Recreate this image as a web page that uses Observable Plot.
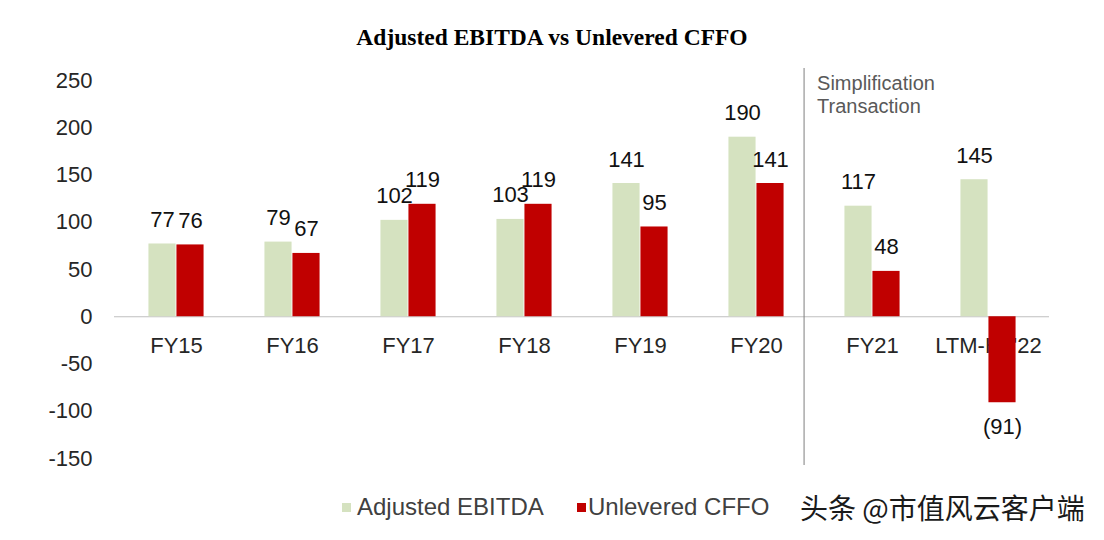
<!DOCTYPE html>
<html>
<head>
<meta charset="utf-8">
<script src="https://cdn.jsdelivr.net/npm/d3@7"></script>
<script src="https://cdn.jsdelivr.net/npm/@observablehq/plot@0.6"></script>
<style>
  html, body { margin: 0; padding: 0; background: #ffffff; }
  #wrap { position: relative; width: 1104px; height: 540px; overflow: hidden; font-family: "Liberation Sans", Arial, sans-serif; }
  #title { position: absolute; left: 0; top: 0; width: 1104px; height: 60px; text-align: center; font-family: "Liberation Serif", "Times New Roman", serif; font-weight: bold; font-size: 23.5px; line-height: 24px; padding-top: 25px; box-sizing: border-box; color: #000; }
  #chart { position: absolute; left: 0; top: 60px; }
  .sw { position: absolute; width: 9px; height: 9px; top: 503px; }
  .lg { position: absolute; top: 493px; font-size: 24px; line-height: 28px; color: #404040; white-space: nowrap; }
  #wm { position: absolute; left: 800px; top: 490px; font-family: "Noto Sans CJK SC", sans-serif; font-size: 28px; line-height: 34px; color: #1a1a1a; white-space: nowrap; }
</style>
</head>
<body>
<div id="wrap">
  <div id="title"></div>
  <div id="chart"></div>
  <div class="sw" id="sw1"></div><div class="lg" id="lg1"></div>
  <div class="sw" id="sw2"></div><div class="lg" id="lg2"></div>
  <div id="wm"></div>
</div>
<script>
const title = "Adjusted EBITDA vs Unlevered CFFO";
const categories = ["FY15", "FY16", "FY17", "FY18", "FY19", "FY20", "FY21", "LTM-H1'22"];
const seriesNames = ["Adjusted EBITDA", "Unlevered CFFO"];
const ebitda = [77, 79, 102, 103, 141, 190, 117, 145];
const cffo = [76, 67, 119, 119, 95, 141, 48, -91];
const yTicks = [-150, -100, -50, 0, 50, 100, 150, 200, 250];
const note = "Simplification\nTransaction";
const noteAt = "FY21";
const watermark = "头条 @市值风云客户端";

const GREEN = "#d5e2c0";
const RED = "#c00000";

const rows = categories.map((c, i) => ({cat: c, ebitda: ebitda[i], cffo: cffo[i]}));
const fmt = v => v < 0 ? `(${-v})` : String(v);

const W = 1104, H = 425, ML = 114, MR = 55, MT = 8, MB = 20;
const bw = (W - ML - MR) / categories.length;
const barW = 28;

document.getElementById("title").textContent = title;

const chart = Plot.plot({
  width: W,
  height: H,
  marginLeft: ML,
  marginRight: MR,
  marginTop: MT,
  marginBottom: MB,
  style: {fontFamily: "'Liberation Sans', Arial, sans-serif", background: "transparent", color: "#262626"},
  x: {type: "band", domain: categories, padding: 0, axis: null},
  y: {domain: [-150, 250], range: [398, 20], axis: null},
  marks: [
    Plot.axisY(yTicks, {tickSize: 0, tickPadding: 22, fontSize: 22, fill: "#262626", tickFormat: d => String(d), label: null}),
    Plot.ruleY([0], {stroke: "#bfbfbf", strokeWidth: 1}),
    Plot.text(rows, {x: "cat", y: () => 0, text: "cat", dy: 29, fontSize: 22, fill: "#262626"}),
    Plot.barY(rows, {x: "cat", y: "ebitda", fill: GREEN, insetLeft: bw / 2 - barW, insetRight: bw / 2}),
    Plot.barY(rows, {x: "cat", y: "cffo", fill: RED, insetLeft: bw / 2, insetRight: bw / 2 - barW}),
    Plot.text(rows, {x: "cat", y: "ebitda", text: d => fmt(d.ebitda), dx: -barW / 2, dy: -24, fontSize: 22, fill: "#111"}),
    Plot.text(rows.filter(d => d.cffo >= 0), {x: "cat", y: "cffo", text: d => fmt(d.cffo), dx: barW / 2, dy: -24, fontSize: 22, fill: "#111"}),
    Plot.text(rows.filter(d => d.cffo < 0), {x: "cat", y: "cffo", text: d => fmt(d.cffo), dx: barW / 2, dy: 24, fontSize: 22, fill: "#111"}),
    Plot.ruleX([noteAt], {x: d => d, dx: -bw / 2 - 10, stroke: "#7f7f7f", strokeWidth: 1}),
    Plot.text([note], {x: () => noteAt, frameAnchor: "top", textAnchor: "start", lineAnchor: "top", dx: -bw / 2 + 3, dy: 5, fontSize: 20, lineHeight: 1.15, fill: "#595959"})
  ]
});
document.getElementById("chart").appendChild(chart);

const sw1 = document.getElementById("sw1"), sw2 = document.getElementById("sw2");
sw1.style.left = "342px"; sw1.style.background = GREEN;
sw2.style.left = "577px"; sw2.style.background = RED;
const lg1 = document.getElementById("lg1"), lg2 = document.getElementById("lg2");
lg1.style.left = "357px"; lg1.textContent = seriesNames[0];
lg2.style.left = "588px"; lg2.textContent = seriesNames[1];
document.getElementById("wm").textContent = watermark;
</script>
</body>
</html>
